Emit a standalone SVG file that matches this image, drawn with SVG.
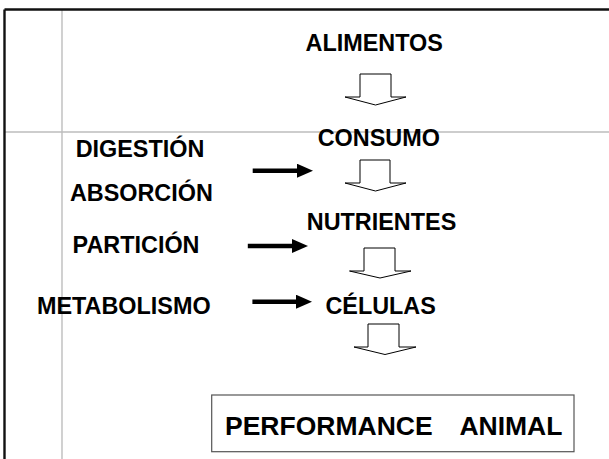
<svg xmlns="http://www.w3.org/2000/svg" width="609" height="459" viewBox="0 0 609 459">
<defs>
<style>
.t{font-family:"Liberation Sans",Arial,sans-serif;font-weight:bold;font-size:23.4px;fill:#000}
.big{font-size:26.5px}
.frame{stroke:#111;stroke-width:2.4;fill:none}
.grid{stroke:#bdbdbd;stroke-width:1.4;fill:none}
.blk{fill:#fff;stroke:#000;stroke-width:1}
.sol{stroke:#000;stroke-width:4.5;fill:none;marker-end:url(#ah)}
.box{fill:#fff;stroke:#555;stroke-width:1.2}
</style>
<marker id="ah" viewBox="0 0 16 14" refX="1" refY="7" markerWidth="16" markerHeight="14" markerUnits="userSpaceOnUse" orient="auto">
<path d="M0,0 L16,7 L0,14 z" fill="#000"/>
</marker>
</defs>
<rect width="609" height="459" fill="#fff"/>
<g id="frame">
<line class="grid" x1="62" y1="9" x2="62" y2="459"/>
<line class="grid" x1="4" y1="132" x2="609" y2="132"/>
<line class="frame" x1="4.5" y1="9.5" x2="609" y2="9.5"/>
<line class="frame" x1="4.5" y1="9.5" x2="4.5" y2="459"/>
</g>
<g id="connectors">
<polygon class="blk" points="360,74 391,74 391,97 406,97 375.5,105 345,97 360,97"/>
<polygon class="blk" points="360,160 390,160 390,183 406,183 375.5,191 345,183 360,183"/>
<polygon class="blk" points="364,248 395,248 395,271 411,271 380,278 349.5,271 364,271"/>
<polygon class="blk" points="368,324 399,324 399,347 416,347 385,354.5 354,347 368,347"/>
<line class="sol" x1="252.7" y1="170.7" x2="298" y2="170.7"/>
<line class="sol" x1="247.8" y1="246" x2="293" y2="246"/>
<line class="sol" x1="252.4" y1="301.7" x2="297" y2="301.7"/>
</g>
<g id="alimentos"><text class="t" x="305.6" y="51">ALIMENTOS</text></g>
<g id="consumo"><text class="t" x="317.7" y="145.5">CONSUMO</text></g>
<g id="digestion"><text class="t" x="75.7" y="157">DIGESTIÓN</text></g>
<g id="absorcion"><text class="t" x="69.9" y="200.5">ABSORCIÓN</text></g>
<g id="nutrientes"><text class="t" x="306.8" y="229.5">NUTRIENTES</text></g>
<g id="particion"><text class="t" x="72.6" y="253">PARTICIÓN</text></g>
<g id="metabolismo"><text class="t" x="36.9" y="313.5">METABOLISMO</text></g>
<g id="celulas"><text class="t" x="325.4" y="313.5">CÉLULAS</text></g>
<g id="performance">
<rect class="box" x="211.7" y="395" width="362.3" height="56.7"/>
<text class="t big" x="225" y="435">PERFORMANCE<tspan x="459.4">ANIMAL</tspan></text>
</g>
</svg>
